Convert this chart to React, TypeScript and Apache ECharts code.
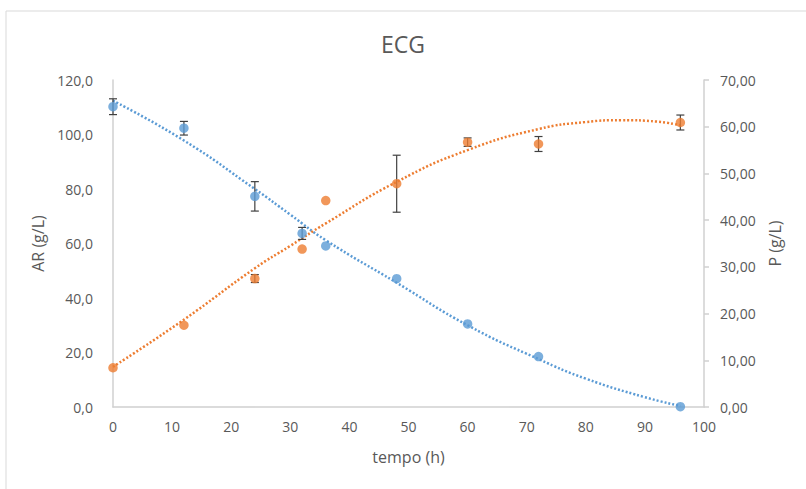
import React, { useEffect, useRef } from "react";
import * as echarts from "echarts";

const times = [0, 12, 24, 32, 36, 48, 60, 72, 96];
const arValues = [110.2, 102.3, 77.3, 63.7, 59.1, 47.1, 30.5, 18.5, 0.1];
const arErrors = [2.9, 2.5, 5.4, 2.2, 0, 0, 0, 0, 0];
const pValues = [8.4, 17.5, 27.5, 33.8, 44.2, 47.8, 56.7, 56.3, 60.9];
const pErrors = [0, 0, 0.85, 0, 0, 6.1, 0.9, 1.6, 1.6];

const arTrendX = [0, 12, 24, 30, 36, 48, 60, 72, 80, 90, 96];
const arTrendY = [112.4, 97.8, 80.0, 70.6, 61.2, 45.6, 30.0, 17.6, 10.4, 3.6, 0.4];
const pTrendX = [0, 12, 24, 30, 36, 48, 60, 72, 80, 86, 92, 96];
const pTrendY = [8.6, 18.7, 29.7, 34.5, 39.3, 48.2, 55.0, 59.5, 61.0, 61.4, 61.1, 60.3];

const xTicks = [0, 10, 20, 30, 40, 50, 60, 70, 80, 90, 100];

const FONT = "'Open Sans', 'Noto Sans', sans-serif";
const TEXT = "#595959";
const AXIS = "#d0d0d0";
const BLUE = "#5B9BD5";
const ORANGE = "#ED7D31";

function errData(vals: number[], errs: number[]) {
  const out: number[][] = [];
  times.forEach((t, i) => {
    if (errs[i] > 0) out.push([t, vals[i] - errs[i], vals[i] + errs[i]]);
  });
  return out;
}

function renderErr(params: any, api: any) {
  const x = api.value(0);
  const lo = api.coord([x, api.value(1)]);
  const hi = api.coord([x, api.value(2)]);
  const w = 4;
  const style = { stroke: "#404040", lineWidth: 1.2 };
  return {
    type: "group",
    children: [
      { type: "line", shape: { x1: lo[0], y1: lo[1], x2: hi[0], y2: hi[1] }, style },
      { type: "line", shape: { x1: lo[0] - w, y1: lo[1], x2: lo[0] + w, y2: lo[1] }, style },
      { type: "line", shape: { x1: hi[0] - w, y1: hi[1], x2: hi[0] + w, y2: hi[1] }, style },
    ],
  };
}

export default function App() {
  const ref = useRef<HTMLDivElement>(null);
  useEffect(() => {
    if (!ref.current) return;
    const chart = echarts.init(ref.current, undefined, { renderer: "svg" });
    chart.setOption({
      animation: false,
      backgroundColor: "#ffffff",
      textStyle: { fontFamily: FONT },
      title: {
        text: "ECG",
        left: "center",
        top: 27,
        textStyle: { fontFamily: FONT, fontSize: 23, fontWeight: "normal", color: TEXT },
      },
      graphic: [
        {
          type: "rect",
          shape: { x: 6, y: 11, width: 830, height: 520 },
          style: { fill: "none", stroke: "#d9d9d9", lineWidth: 1 },
          silent: true,
        },
      ],
      grid: { left: 113, right: 102, top: 80, bottom: 82, containLabel: false, outerBoundsMode: "none" },
      xAxis: {
        type: "value",
        min: 0,
        max: 100,
        interval: 10,
        name: "tempo (h)",
        nameLocation: "middle",
        nameGap: 42,
        nameTextStyle: { fontFamily: FONT, fontSize: 16, color: TEXT },
        axisLine: { show: true, lineStyle: { color: AXIS, width: 1.5 } },
        axisTick: { show: false },
        splitLine: { show: false },
        axisLabel: {
          fontFamily: FONT,
          fontSize: 14,
          color: TEXT,
          margin: 12,
          formatter: (v: number) => (xTicks.includes(v) ? String(v) : ""),
        },
      },
      yAxis: [
        {
          type: "value",
          min: 0,
          max: 120,
          interval: 20,
          position: "left",
          name: "AR (g/L)",
          nameLocation: "middle",
          nameGap: 58,
          nameRotate: 90,
          nameTextStyle: { fontFamily: FONT, fontSize: 16, color: TEXT },
          axisLine: { show: true, lineStyle: { color: AXIS, width: 1.5 } },
          axisTick: { show: false },
          splitLine: { show: false },
          axisLabel: {
            fontFamily: FONT,
            fontSize: 14,
            color: TEXT,
            margin: 20,
            formatter: (v: number) => v.toFixed(1).replace(".", ","),
          },
        },
        {
          type: "value",
          min: 0,
          max: 70,
          interval: 10,
          position: "right",
          name: "P (g/L)",
          nameLocation: "middle",
          nameGap: 63,
          nameRotate: 90,
          nameTextStyle: { fontFamily: FONT, fontSize: 16, color: TEXT },
          axisLine: { show: true, lineStyle: { color: AXIS, width: 1.5 } },
          axisTick: { show: true, inside: false, length: 5, lineStyle: { color: AXIS, width: 1.5 } },
          splitLine: { show: false },
          axisLabel: {
            fontFamily: FONT,
            fontSize: 14,
            color: TEXT,
            margin: 16,
            formatter: (v: number) => v.toFixed(2).replace(".", ","),
          },
        },
      ],
      series: [
        {
          name: "AR trend",
          type: "line",
          yAxisIndex: 0,
          smooth: true,
          showSymbol: false,
          silent: true,
          data: arTrendX.map((x, i) => [x, arTrendY[i]]),
          lineStyle: { color: BLUE, width: 2.5, type: [2, 2] },
          z: 1,
        },
        {
          name: "P trend",
          type: "line",
          yAxisIndex: 1,
          smooth: true,
          showSymbol: false,
          silent: true,
          data: pTrendX.map((x, i) => [x, pTrendY[i]]),
          lineStyle: { color: ORANGE, width: 2.5, type: [2, 2] },
          z: 1,
        },
        {
          name: "AR err",
          type: "custom",
          yAxisIndex: 0,
          renderItem: renderErr,
          encode: { x: 0, y: [1, 2] },
          data: errData(arValues, arErrors),
          z: 2,
        },
        {
          name: "P err",
          type: "custom",
          yAxisIndex: 1,
          renderItem: renderErr,
          encode: { x: 0, y: [1, 2] },
          data: errData(pValues, pErrors),
          z: 2,
        },
        {
          name: "AR",
          type: "scatter",
          yAxisIndex: 0,
          symbol: "circle",
          symbolSize: 9.5,
          itemStyle: { color: BLUE },
          data: times.map((t, i) => [t, arValues[i]]),
          z: 3,
        },
        {
          name: "P",
          type: "scatter",
          yAxisIndex: 1,
          symbol: "circle",
          symbolSize: 9.5,
          itemStyle: { color: ORANGE },
          data: times.map((t, i) => [t, pValues[i]]),
          z: 3,
        },
      ],
    });
    return () => chart.dispose();
  }, []);
  return (
    <div
      ref={ref}
      style={{ position: "absolute", left: 0, top: 0, width: 806, height: 489 }}
    />
  );
}
